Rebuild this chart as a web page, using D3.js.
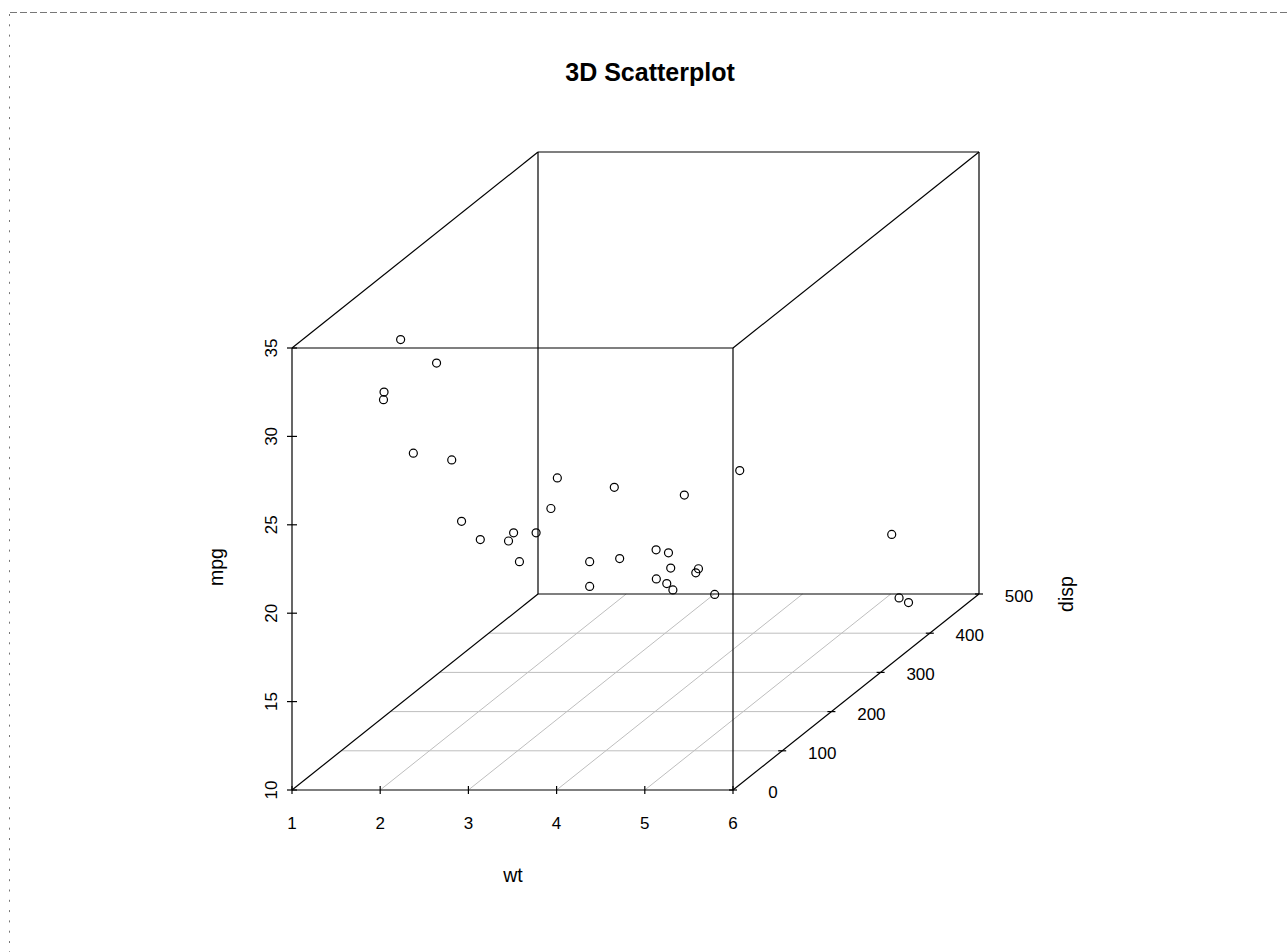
<!DOCTYPE html>
<html>
<head>
<meta charset="utf-8">
<script src="https://cdn.jsdelivr.net/npm/d3@7"></script>
<style>
  body { margin: 0; background: #fff; }
  svg text { font-family: "Liberation Sans", Arial, sans-serif; fill: #000; }
</style>
</head>
<body>
<svg id="chart" width="1287" height="952"></svg>
<script>
// mtcars: wt (1000 lbs), disp (cu.in.), mpg
var wt   = [2.620, 2.875, 2.320, 3.215, 3.440, 3.460, 3.570, 3.190, 3.150, 3.440, 3.440,
            4.070, 3.730, 3.780, 5.250, 5.424, 5.345, 2.200, 1.615, 1.835, 2.465, 3.520,
            3.435, 3.840, 3.845, 1.935, 2.140, 1.513, 3.170, 2.770, 3.570, 2.780];
var disp = [160, 160, 108, 258, 360, 225, 360, 146.7, 140.8, 167.6, 167.6,
            275.8, 275.8, 275.8, 472, 460, 440, 78.7, 75.7, 71.1, 120.1, 318,
            304, 350, 400, 79, 120.3, 95.1, 351, 145, 301, 121];
var mpg  = [21.0, 21.0, 22.8, 21.4, 18.7, 18.1, 14.3, 24.4, 22.8, 19.2, 17.8,
            16.4, 17.3, 15.2, 10.4, 10.4, 14.7, 32.4, 30.4, 33.9, 21.5, 15.5,
            15.2, 13.3, 19.2, 27.3, 26.0, 30.4, 15.8, 19.7, 15.0, 21.4];

var wtTicks   = [1, 2, 3, 4, 5, 6];
var mpgTicks  = [10, 15, 20, 25, 30, 35];
var dispTicks = [0, 100, 200, 300, 400, 500];

var svg = d3.select('#chart');

// page frame (dashed top, dotted left)
svg.append('line')
  .attr('x1', 10).attr('y1', 12.5).attr('x2', 1287).attr('y2', 12.5)
  .attr('stroke', '#777').attr('stroke-dasharray', '7,3');
svg.append('line')
  .attr('x1', 9.5).attr('y1', 14).attr('x2', 9.5).attr('y2', 952)
  .attr('stroke', '#777').attr('stroke-dasharray', '2,8.3');

// scales
var x = d3.scaleLinear().domain([1, 6]).range([292, 733]);
var z = d3.scaleLinear().domain([10, 35]).range([790, 348]);
var depth = d3.scaleLinear().domain([0, 500]).range([0, 1]);
var DX = 246, DY = -196;

function proj(a, b, c) {
  var t = depth(b);
  return [x(a) + DX * t, z(c) + DY * t];
}

var line = d3.line();

// floor grid
var grid = svg.append('g').attr('stroke', '#bebebe').attr('fill', 'none');
dispTicks.slice(1, -1).forEach(function(d) {
  grid.append('path').attr('d', line([proj(1, d, 10), proj(6, d, 10)]));
});
wtTicks.slice(1, -1).forEach(function(d) {
  grid.append('path').attr('d', line([proj(d, 0, 10), proj(d, 500, 10)]));
});

// box
var box = svg.append('g').attr('stroke', '#000').attr('fill', 'none').attr('stroke-width', 1.2);
var edges = [
  [[1, 0, 10], [6, 0, 10]], [[1, 0, 35], [6, 0, 35]],
  [[1, 0, 10], [1, 0, 35]], [[6, 0, 10], [6, 0, 35]],
  [[1, 500, 10], [6, 500, 10]], [[1, 500, 35], [6, 500, 35]],
  [[1, 500, 10], [1, 500, 35]], [[6, 500, 10], [6, 500, 35]],
  [[1, 0, 10], [1, 500, 10]], [[6, 0, 10], [6, 500, 10]],
  [[1, 0, 35], [1, 500, 35]], [[6, 0, 35], [6, 500, 35]]
];
edges.forEach(function(e) {
  box.append('path').attr('d', line(e.map(function(p) { return proj(p[0], p[1], p[2]); })));
});

// wt axis
wtTicks.forEach(function(d) {
  box.append('path').attr('d', line([[x(d), z(10) - 4], [x(d), z(10) + 4]]));
  svg.append('text').attr('x', x(d)).attr('y', 829)
    .attr('text-anchor', 'middle').style('font-size', '17px').text(d);
});

// mpg axis
mpgTicks.forEach(function(d) {
  box.append('path').attr('d', line([[x(1) - 5, z(d)], [x(1) + 5, z(d)]]));
  svg.append('text').attr('transform', 'translate(277,' + z(d) + ') rotate(-90)')
    .attr('text-anchor', 'middle').style('font-size', '17px').text(d);
});

// disp axis
dispTicks.forEach(function(d) {
  var p = proj(6, d, 10);
  box.append('path').attr('d', line([[p[0] - 4, p[1]], [p[0] + 4, p[1]]]));
  svg.append('text').attr('x', p[0] + 40).attr('y', p[1] + 8)
    .attr('text-anchor', 'middle').style('font-size', '17px').text(d);
});

// axis titles
svg.append('text').attr('x', 513).attr('y', 882)
  .attr('text-anchor', 'middle').style('font-size', '19.5px').text('wt');
svg.append('text').attr('transform', 'translate(223,567) rotate(-90)')
  .attr('text-anchor', 'middle').style('font-size', '19.5px').text('mpg');
svg.append('text').attr('transform', 'translate(1073,594) rotate(-90)')
  .attr('text-anchor', 'middle').style('font-size', '19.5px').text('disp');

// title
svg.append('text').attr('x', 650).attr('y', 81)
  .attr('text-anchor', 'middle').style('font-size', '25px').style('font-weight', 'bold')
  .text('3D Scatterplot');

// points
svg.append('g').selectAll('circle')
  .data(d3.range(wt.length))
  .enter()
  .append('circle')
  .attr('cx', function(i) { return proj(wt[i], disp[i], mpg[i])[0]; })
  .attr('cy', function(i) { return proj(wt[i], disp[i], mpg[i])[1]; })
  .attr('r', 4)
  .attr('fill', 'none')
  .attr('stroke', '#000')
  .attr('stroke-width', 1.2);
</script>
</body>
</html>
